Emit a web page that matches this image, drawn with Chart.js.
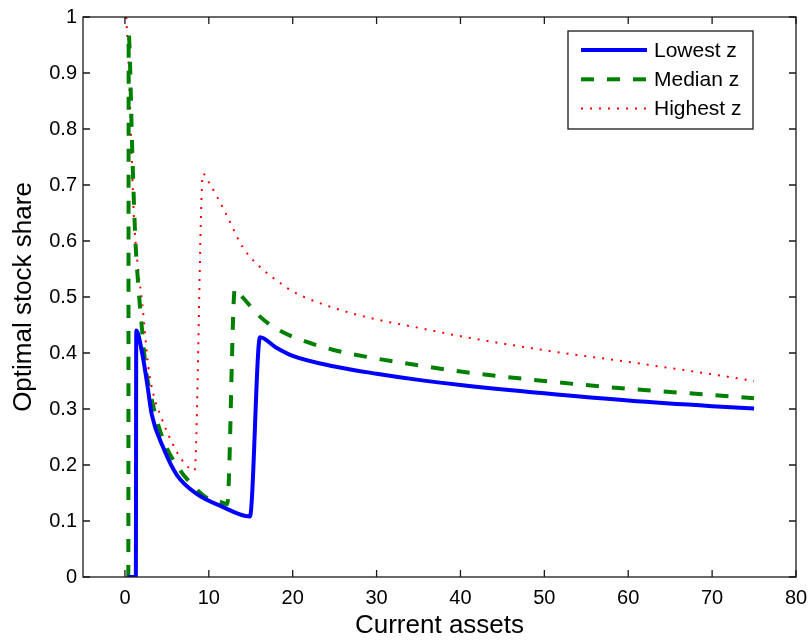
<!DOCTYPE html>
<html lang="en">
<head>
<meta charset="UTF-8">
<title>Optimal stock share</title>
<script src="https://cdn.jsdelivr.net/npm/chart.js"></script>
<style>
  html, body { margin: 0; padding: 0; background: #fff; }
  #wrap { width: 811px; height: 642px; }
</style>
</head>
<body>
<div id="wrap"><canvas id="myChart" width="811" height="642"></canvas></div>
<script>
// values
const seriesNames = ['Lowest z', 'Median z', 'Highest z'];

const lowX = [0.3, 1.3, 1.35, 2.05, 2.64, 3.2, 4.6, 6.2, 8.6, 11.4, 14.9, 16.1, 18, 20, 25, 30, 35, 40, 50, 60, 70, 75];
const lowY = [0, 0, 0.44, 0.40, 0.346, 0.29, 0.23, 0.182, 0.148, 0.127, 0.108, 0.428, 0.41, 0.395, 0.376, 0.363, 0.352, 0.343, 0.328, 0.315, 0.305, 0.301];

const medX = [0.3, 0.4, 0.45, 0.6, 0.8, 1.0, 1.25, 1.65, 2.05, 2.5, 3, 4, 5, 6.6, 8, 9.8, 11.4, 12.2, 13.1, 14, 16.1, 18.1, 20.7, 25, 30, 35, 40, 50, 60, 70, 75];
const medY = [0, 0, 0.97, 0.92, 0.8, 0.7, 0.6, 0.51, 0.44, 0.37, 0.33, 0.27, 0.23, 0.19, 0.165, 0.141, 0.134, 0.13, 0.515, 0.5, 0.465, 0.443, 0.425, 0.405, 0.39, 0.378, 0.367, 0.35, 0.336, 0.325, 0.319];

const highX = [0.15, 0.4, 0.7, 1.05, 1.5, 2.05, 2.8, 3.5, 4.2, 5, 6.2, 7, 8.3, 9.3, 10, 12, 14, 16, 18.5, 20, 25, 30, 35, 40, 50, 60, 70, 75];
const highY = [1.0, 0.93, 0.8, 0.65, 0.56, 0.49, 0.374, 0.32, 0.29, 0.26, 0.223, 0.205, 0.19, 0.72, 0.705, 0.65, 0.59, 0.555, 0.525, 0.51, 0.48, 0.46, 0.445, 0.43, 0.405, 0.384, 0.362, 0.35];

const xTicks = [0, 10, 20, 30, 40, 50, 60, 70, 80];

function pts(xs, ys) {
    return xs.map((x, i) => ({ x: x, y: ys[i] }));
}

// box around the axes with inward ticks on all four sides
const frameTicks = {
    id: 'frameTicks',
    afterDatasetsDraw(chart) {
        const { ctx, chartArea: a, scales: { x, y } } = chart;
        ctx.save();
        ctx.strokeStyle = '#1a1a1a';
        ctx.lineWidth = 1.3;
        ctx.strokeRect(a.left, a.top, a.right - a.left, a.bottom - a.top);
        ctx.beginPath();
        x.ticks.forEach(t => {
            const px = x.getPixelForValue(t.value);
            ctx.moveTo(px, a.bottom); ctx.lineTo(px, a.bottom - 7);
            ctx.moveTo(px, a.top); ctx.lineTo(px, a.top + 7);
        });
        y.ticks.forEach(t => {
            const py = y.getPixelForValue(t.value);
            ctx.moveTo(a.left, py); ctx.lineTo(a.left + 7, py);
            ctx.moveTo(a.right, py); ctx.lineTo(a.right - 7, py);
        });
        ctx.stroke();
        ctx.restore();
    }
};

// legend box in the top right corner, MATLAB style
const boxLegend = {
    id: 'boxLegend',
    afterDraw(chart) {
        const { ctx, chartArea: a } = chart;
        const w = 185, h = 98;
        const left = a.right - 43 - w, top = a.top + 14;
        ctx.save();
        ctx.fillStyle = '#fff';
        ctx.fillRect(left, top, w, h);
        ctx.strokeStyle = '#1a1a1a';
        ctx.lineWidth = 1.3;
        ctx.strokeRect(left, top, w, h);
        ctx.font = '21px "Liberation Sans", Arial, sans-serif';
        ctx.textBaseline = 'middle';
        chart.data.datasets.forEach((ds, i) => {
            const cy = top + 19 + i * 29.3;
            ctx.strokeStyle = ds.borderColor;
            ctx.lineWidth = ds.borderWidth;
            ctx.setLineDash(ds.borderDash || []);
            ctx.beginPath();
            ctx.moveTo(left + 13, cy);
            ctx.lineTo(left + 79, cy);
            ctx.stroke();
            ctx.setLineDash([]);
            ctx.fillStyle = '#000';
            ctx.fillText(ds.label, left + 86, cy + 1);
        });
        ctx.restore();
    }
};

const ctx = document.getElementById('myChart').getContext('2d');
const myChart = new Chart(ctx, {
    type: 'line',
    data: {
        datasets: [{
            label: seriesNames[0],
            data: pts(lowX, lowY),
            borderColor: '#0000ff',
            borderWidth: 4,
            pointRadius: 0,
            cubicInterpolationMode: 'monotone'
        }, {
            label: seriesNames[1],
            data: pts(medX, medY),
            borderColor: '#008000',
            borderWidth: 4,
            borderDash: [13, 13],
            pointRadius: 0,
            cubicInterpolationMode: 'monotone'
        }, {
            label: seriesNames[2],
            data: pts(highX, highY),
            borderColor: '#ff0000',
            borderWidth: 2,
            borderDash: [2, 7],
            pointRadius: 0,
            cubicInterpolationMode: 'monotone'
        }]
    },
    options: {
        responsive: false,
        animation: false,
        layout: { padding: { top: 17, right: 15, left: 0, bottom: 0 } },
        plugins: {
            legend: { display: false },
            tooltip: { enabled: false }
        },
        scales: {
            x: {
                type: 'linear',
                min: -5,
                max: 80,
                afterBuildTicks: scale => {
                    scale.ticks = xTicks.map(v => ({ value: v }));
                },
                afterFit: scale => {
                    scale.height = 65;
                    scale.paddingLeft = 0;
                    scale.paddingRight = 0;
                },
                grid: { display: false, drawTicks: false },
                border: { display: false },
                ticks: {
                    color: '#000',
                    padding: 9,
                    maxRotation: 0,
                    font: { family: '"Liberation Sans", Arial, sans-serif', size: 20 }
                },
                title: {
                    display: true,
                    text: 'Current assets',
                    color: '#000',
                    padding: { top: 0, bottom: 1 },
                    font: { family: '"Liberation Sans", Arial, sans-serif', size: 26 }
                }
            },
            y: {
                type: 'linear',
                min: 0,
                max: 1,
                afterFit: scale => {
                    scale.width = 83;
                    scale.paddingTop = 0;
                    scale.paddingBottom = 0;
                },
                grid: { display: false, drawTicks: false },
                border: { display: false },
                ticks: {
                    stepSize: 0.1,
                    color: '#000',
                    padding: 6,
                    callback: v => String(+v.toFixed(1)),
                    font: { family: '"Liberation Sans", Arial, sans-serif', size: 20 }
                },
                title: {
                    display: true,
                    text: 'Optimal stock share',
                    color: '#000',
                    padding: { top: 8, bottom: 0 },
                    font: { family: '"Liberation Sans", Arial, sans-serif', size: 26 }
                }
            }
        }
    },
    plugins: [frameTicks, boxLegend]
});
</script>
</body>
</html>
